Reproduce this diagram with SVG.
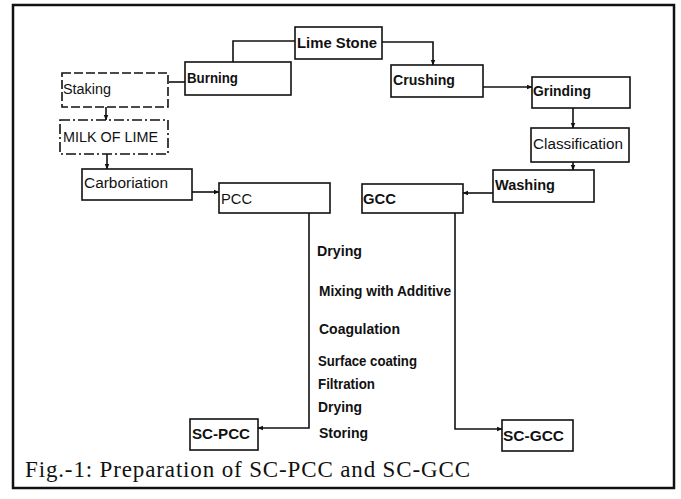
<svg xmlns="http://www.w3.org/2000/svg" width="681" height="499" viewBox="0 0 681 499">
<style>
.box{fill:#fff;stroke:#111;stroke-width:1.6}
.dash{stroke-dasharray:9 3}
.dashdot{stroke-dasharray:10 3 2 3}
.lbl{font-family:"Liberation Sans",Arial,sans-serif;font-size:14px;fill:#111}
.b{font-weight:bold}
.step{font-family:"Liberation Sans",Arial,sans-serif;font-size:14px;font-weight:bold;fill:#111}
.con path{fill:none;stroke:#111;stroke-width:1.6}
.cap{font-family:"Liberation Serif","Times New Roman",serif;font-size:23px;fill:#111}
</style>
<defs>
<marker id="ah" viewBox="0 0 10 10" refX="9" refY="5" markerWidth="6" markerHeight="6" orient="auto" markerUnits="userSpaceOnUse">
<path d="M0,1 L10,5 L0,9 z" fill="#111"/>
</marker>
</defs>
<rect width="681" height="499" fill="#fff"/>
<rect x="13" y="5" width="661" height="483" fill="none" stroke="#111" stroke-width="2.5"/>

<g class="con">
<path d="M295,41 H233 V62"/>
<path d="M382,42 H433 V65" marker-end="url(#ah)"/>
<path d="M185,82 H169"/>
<path d="M106,107 V120" marker-end="url(#ah)"/>
<path d="M107,154 V169" marker-end="url(#ah)"/>
<path d="M192,192 H219" marker-end="url(#ah)"/>
<path d="M483,87 H532" marker-end="url(#ah)"/>
<path d="M573,108 V128" marker-end="url(#ah)"/>
<path d="M573,162 V170" marker-end="url(#ah)"/>
<path d="M493,193 H463" marker-end="url(#ah)"/>
<path d="M309,213 V428 H258" marker-end="url(#ah)"/>
<path d="M455,213 V429 H502" marker-end="url(#ah)"/>
</g>

<g id="lime-stone"><rect class="box" x="295" y="27" width="87" height="32"/><text class="lbl b" x="297" y="48" textLength="80" lengthAdjust="spacingAndGlyphs">Lime Stone</text></g>
<g id="burning"><rect class="box" x="185" y="62" width="106" height="33"/><text class="lbl b" x="187" y="83" textLength="51" lengthAdjust="spacingAndGlyphs">Burning</text></g>
<g id="staking"><rect class="box dash" x="62" y="73" width="106" height="34"/><text class="lbl" x="63" y="94" textLength="48" lengthAdjust="spacingAndGlyphs">Staking</text></g>
<g id="milk-of-lime"><rect class="box dashdot" x="60" y="120" width="108" height="34"/><text class="lbl" x="63" y="142" textLength="95" lengthAdjust="spacingAndGlyphs">MILK OF LIME</text></g>
<g id="carboriation"><rect class="box" x="82" y="169" width="110" height="31"/><text class="lbl" x="84" y="188" textLength="84" lengthAdjust="spacingAndGlyphs">Carboriation</text></g>
<g id="pcc"><rect class="box" x="219" y="183" width="111" height="30"/><text class="lbl" x="221" y="204" textLength="31" lengthAdjust="spacingAndGlyphs">PCC</text></g>
<g id="crushing"><rect class="box" x="391" y="65" width="92" height="32"/><text class="lbl b" x="393" y="85" textLength="62" lengthAdjust="spacingAndGlyphs">Crushing</text></g>
<g id="grinding"><rect class="box" x="532" y="77" width="98" height="31"/><text class="lbl b" x="533" y="96" textLength="58" lengthAdjust="spacingAndGlyphs">Grinding</text></g>
<g id="classification"><rect class="box" x="531" y="128" width="98" height="34"/><text class="lbl" x="533" y="149" textLength="90" lengthAdjust="spacingAndGlyphs">Classification</text></g>
<g id="washing"><rect class="box" x="493" y="170" width="101" height="32"/><text class="lbl b" x="495" y="190" textLength="60" lengthAdjust="spacingAndGlyphs">Washing</text></g>
<g id="gcc"><rect class="box" x="362" y="184" width="101" height="29"/><text class="lbl b" x="363" y="204" textLength="33" lengthAdjust="spacingAndGlyphs">GCC</text></g>
<g id="sc-pcc"><rect class="box" x="190" y="419" width="68" height="31"/><text class="lbl b" x="192" y="439" textLength="58" lengthAdjust="spacingAndGlyphs">SC-PCC</text></g>
<g id="sc-gcc"><rect class="box" x="502" y="420" width="71" height="31"/><text class="lbl b" x="503" y="441" textLength="61" lengthAdjust="spacingAndGlyphs">SC-GCC</text></g>

<g id="steps">
<text class="step" x="317" y="256" textLength="45" lengthAdjust="spacingAndGlyphs">Drying</text>
<text class="step" x="319" y="296" textLength="132" lengthAdjust="spacingAndGlyphs">Mixing with Additive</text>
<text class="step" x="319" y="334" textLength="81" lengthAdjust="spacingAndGlyphs">Coagulation</text>
<text class="step" x="318" y="366" textLength="99" lengthAdjust="spacingAndGlyphs">Surface coating</text>
<text class="step" x="318" y="389" textLength="57" lengthAdjust="spacingAndGlyphs">Filtration</text>
<text class="step" x="318" y="412" textLength="44" lengthAdjust="spacingAndGlyphs">Drying</text>
<text class="step" x="319" y="438" textLength="49" lengthAdjust="spacingAndGlyphs">Storing</text>
</g>

<text class="cap" x="25" y="477" textLength="445" lengthAdjust="spacing">Fig.-1: Preparation of SC-PCC and SC-GCC</text>
</svg>
